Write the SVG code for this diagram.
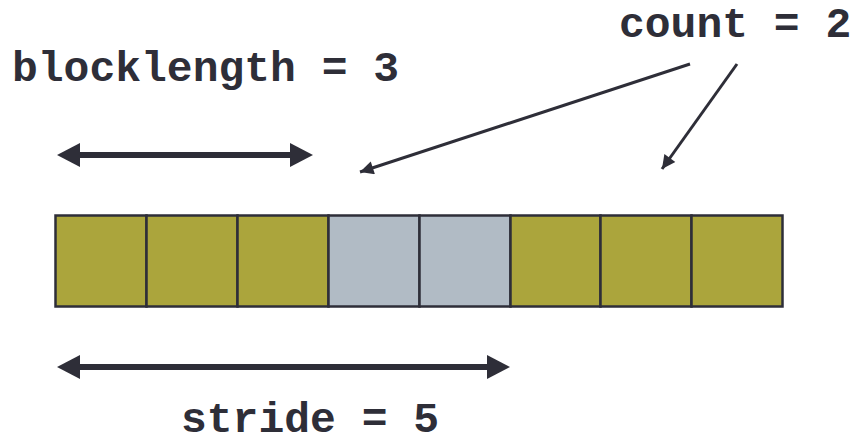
<svg xmlns="http://www.w3.org/2000/svg" width="851" height="447" viewBox="0 0 851 447">
<defs>
<style>
.lbl{font-family:"Liberation Mono","Courier New",monospace;font-weight:bold;font-size:43px;fill:#2e2e38}
.cell{stroke:#2e2e38;stroke-width:2.5}
.olive{fill:#aba53c}
.grey{fill:#b1bbc5}
.dbl{stroke:#2e2e38;stroke-width:6;fill:none}
.thin{stroke:#2e2e38;stroke-width:3;fill:none}
.head{fill:#2e2e38}
</style>
<marker id="ah" viewBox="0 0 10 10" refX="10" refY="5" markerWidth="5" markerHeight="4.5" markerUnits="strokeWidth" orient="auto">
<path d="M0,0 L10,5 L0,10 z" fill="#2e2e38"/>
</marker>
</defs>
<rect width="851" height="447" fill="#ffffff"/>
<g id="label-blocklength"><text class="lbl" x="12" y="81">blocklength = 3</text></g>
<g id="label-count"><text class="lbl" x="619" y="37">count = 2</text></g>
<g id="label-stride"><text class="lbl" x="181" y="432">stride = 5</text></g>
<g id="cells">
<g id="cell1"><rect class="cell olive" x="55.5" y="215.5" width="91" height="91"/></g>
<g id="cell2"><rect class="cell olive" x="146.5" y="215.5" width="91" height="91"/></g>
<g id="cell3"><rect class="cell olive" x="237.5" y="215.5" width="91" height="91"/></g>
<g id="cell4"><rect class="cell grey" x="328.5" y="215.5" width="91" height="91"/></g>
<g id="cell5"><rect class="cell grey" x="419.5" y="215.5" width="91" height="91"/></g>
<g id="cell6"><rect class="cell olive" x="510.5" y="215.5" width="90" height="91"/></g>
<g id="cell7"><rect class="cell olive" x="600.5" y="215.5" width="91" height="91"/></g>
<g id="cell8"><rect class="cell olive" x="691.5" y="215.5" width="91" height="91"/></g>
</g>
<g id="connectors">
<line class="dbl" x1="78" y1="155" x2="292" y2="155"/>
<path class="head" d="M57,155 L80,143 L80,167 z"/>
<path class="head" d="M313,155 L290,143 L290,167 z"/>
<line class="dbl" x1="78" y1="367" x2="489" y2="367"/>
<path class="head" d="M57,367 L80,355 L80,379 z"/>
<path class="head" d="M510,367 L487,355 L487,379 z"/>
<line class="thin" x1="690" y1="64" x2="360" y2="172" marker-end="url(#ah)"/>
<line class="thin" x1="737" y1="64" x2="662" y2="169" marker-end="url(#ah)"/>
</g>
</svg>
